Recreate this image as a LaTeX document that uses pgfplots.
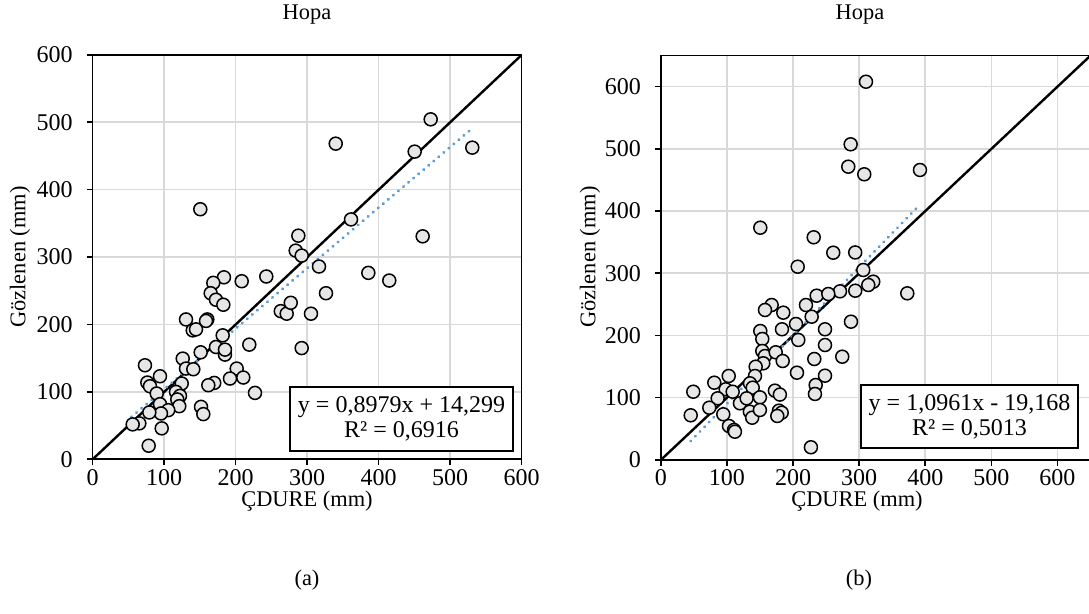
\documentclass[border=0pt]{standalone}
\usepackage{pgfplots}
\pgfplotsset{compat=1.18}
\usepackage{fontspec}
\setmainfont{Liberation Serif}
\definecolor{gridgray}{RGB}{217,217,217}
\definecolor{trendblue}{RGB}{91,155,213}
\definecolor{markfill}{RGB}{230,230,230}
\pgfplotsset{
  hopa/.style={
    scale only axis,
    anchor=south west,
    axis line style={line width=0.8pt},
    grid=major,
    major grid style={gridgray, line width=0.8pt},
    tick align=outside,
    tick pos=left,
    major tick length=3pt,
    tick style={black, line width=0.8pt},
    xmin=0, ymin=0,
    /pgf/number format/assume math mode=true,
    ticklabel style={font=\fontsize{12}{14}\selectfont},
    xticklabel style={yshift=1.5pt},
    yticklabel style={xshift=-3.5pt},
  },
  pts/.style={only marks, mark=*, mark size=3.25pt,
    mark options={fill=markfill, draw=black, line width=0.75pt}},
  diag/.style={black, line width=1.2pt, no marks},
  trend/.style={trendblue, line width=1.5pt, no marks, line cap=round,
    dash pattern=on 0.2pt off 3.1pt},
}
\pgfplotstableread{
x y
150.5 371
287.6 331.8
283.9 309.6
292.3 302.2
472.7 504.4
339.9 468.3
450.3 456.5
530.9 462.4
361.3 355.9
461.5 330.8
316.5 286
385.5 276.6
414.8 265.2
326.3 246.4
305.3 216
292.3 165
263.0 219.8
271.3 216
277.0 232.2
183.6 270
168.7 261.8
208.4 264.2
242.8 271.2
165.0 246.4
172.4 236.7
182.7 229.3
130.5 207.5
160.3 207.5
158.5 205.3
139.9 191.3
144.5 192.8
181.8 183.9
172.4 166.6
185.0 155.3
185.0 162.7
219.0 170.1
151.0 158.7
125.9 149.4
130.5 134.6
140.7 133.6
73.1 139.5
201.4 134.6
210.6 121.3
192.0 119.8
170.0 113.3
161.7 109.9
227.0 98.5
94.1 123.2
76.4 113.9
80.1 108.4
89.5 97.6
119.7 105
124.5 112.4
116.5 100
122.1 94.1
118.3 88.8
121.1 78.8
94.1 81.8
105.7 72.9
95.5 68
79.2 69.5
151.5 77.8
154.7 67
65.2 53.3
55.9 51.8
96.5 45.9
78.3 20.1
}\dataA
\pgfplotstableread{
x y
287.1 507.4
283.5 471.4
150.4 373.3
231.2 357.9
260.8 333.1
294.0 333.5
310.3 608
307.7 459.2
392.0 466.1
207.0 310.6
306.2 305.3
321.3 286.5
313.8 281.2
294.1 272
271.0 271
235.7 264
253.3 266.7
219.5 249
167.6 249
157.5 241
185.2 236.7
228.1 230.2
204.4 218.5
248.3 210
287.6 222.2
183.2 210
150.4 207.2
153.4 194.4
207.9 192.8
248.3 184.7
153.4 175.1
157.5 167
173.7 173
184.3 159
154.9 155.3
232.1 162.2
274.4 165.9
143.4 149.8
142.4 134.9
205.9 140.2
248.3 135.4
102.6 134.9
80.8 124.1
49.0 109.6
134.8 123.1
98.0 113.5
108.6 109.6
138.9 116.1
85.9 99
73.2 83.9
45.1 71.7
94.4 73.3
119.6 91
129.7 99
149.8 100.6
134.6 77.5
138.1 67.8
149.8 80.2
172.5 111.3
180.0 105
178.6 79.1
182.8 75.9
176.1 70.6
103.0 54.5
110.6 48.1
112.0 45.3
227.0 20.3
234.2 120.4
233.1 106
372.8 267.8
}\dataB
\begin{document}
\begin{tikzpicture}[font=\fontsize{11.2}{13}\selectfont]
\useasboundingbox (0,0) rectangle (544.5pt,307pt);
\begin{axis}[hopa, at={(46.35pt,77.35pt)}, width=214.5pt, height=202.2pt,
  xmax=600, ymax=600, xtick={0,100,...,600}, ytick={0,100,...,600}]
  \addplot[diag] coordinates {(0,0) (600,600)};
  \addplot[pts] table[x=x,y=y] {\dataA};
  \addplot[trend] coordinates {(54,62.79) (527,487.49)};
\end{axis}
\begin{axis}[hopa, at={(330.45pt,77.05pt)}, width=214.8pt, height=202.15pt,
  xmax=650, ymax=650, xtick={0,100,...,600}, ytick={0,100,...,600}]
  \addplot[diag] coordinates {(0,0) (650,650)};
  \addplot[pts] table[x=x,y=y] {\dataB};
  \addplot[trend] coordinates {(45,30.16) (392,410.5)};
\end{axis}
\node at (153.5pt,299.5pt) {Hopa};
\node at (430pt,299.5pt) {Hopa};
\node at (153.5pt,56.5pt) {ÇDURE (mm)};
\node at (428.5pt,56.5pt) {ÇDURE (mm)};
\node[rotate=90] at (10pt,178.5pt) {Gözlenen (mm)};
\node[rotate=90] at (295pt,178.5pt) {Gözlenen (mm)};
\node at (153.5pt,17pt) {(a)};
\node at (429.5pt,17pt) {(b)};
\node[draw, line width=0.8pt, fill=white, minimum width=111.5pt, minimum height=32pt,
  inner sep=0pt, align=center, font=\fontsize{12}{12.5}\selectfont]
  at (200.75pt,97.5pt) {y = 0,8979x + 14,299\\R² = 0,6916};
\node[draw, line width=0.8pt, fill=white, minimum width=108.5pt, minimum height=31.5pt,
  inner sep=0pt, align=center, font=\fontsize{12}{12.5}\selectfont]
  at (484.75pt,98.75pt) {y = 1,0961x - 19,168\\R² = 0,5013};
\end{tikzpicture}
\end{document}
